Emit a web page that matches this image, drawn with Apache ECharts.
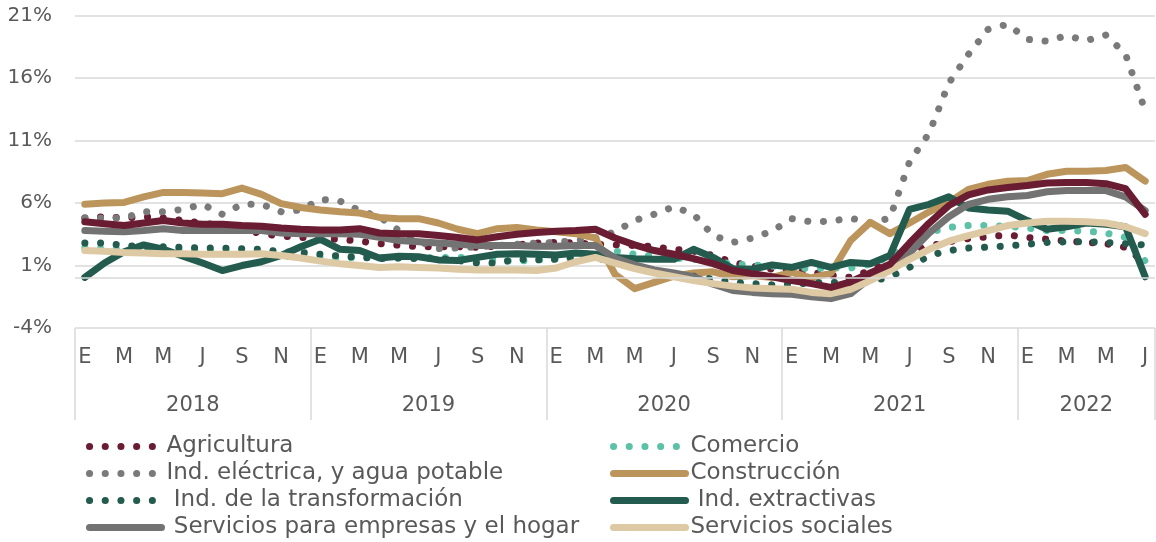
<!DOCTYPE html>
<html lang="es">
<head>
<meta charset="utf-8">
<title>Variación anual por sector</title>
<script src="https://cdn.jsdelivr.net/npm/echarts@6.0.0/dist/echarts.min.js"></script>
<style>
  html, body { margin: 0; padding: 0; background: #fff; }
  #chart { width: 1156px; height: 542px; }
</style>
</head>
<body>
<div id="chart"></div>
<script>
// etiquetas de meses y años (ene-2018 a jul-2022)
const monthLetters = ['E', 'F', 'M', 'A', 'M', 'J', 'J', 'A', 'S', 'O', 'N', 'D']
const years = ['2018', '2019', '2020', '2021', '2022']
const monthsPerYear = [12, 12, 12, 12, 7]

// eje Y (%)
const yMin = -4
const yMax = 21
const yStep = 5

// series (% anual), una por sector
const agricultura = [
  4.8, 4.9, 4.8, 4.9, 4.8, 4.6, 4.4, 4.2, 3.9, 3.55, 3.35, 3.25,
  3.15, 3.1, 2.95, 2.75, 2.62, 2.5, 2.5, 2.5, 2.45, 2.55, 2.65, 2.8,
  2.85, 2.8, 2.7, 2.65, 2.6, 2.5, 2.3, 2.15, 1.8, 1.25, 0.95, 0.7,
  0.55, 0.45, 0.2, 0.05, 0.6, 1.3, 2.1, 2.55, 2.9, 3.15, 3.3, 3.45,
  3.25, 3.1, 2.95, 2.85, 2.75, 2.45, 1.2
]
const comercio = [
  2.4, 2.35, 2.3, 2.3, 2.25, 2.2, 2.2, 2.15, 2.1, 2.0, 1.75, 1.65,
  1.6, 1.6, 1.65, 1.65, 1.6, 1.6, 1.65, 1.65, 1.55, 1.4, 1.35, 1.45,
  1.55, 1.8, 2.1, 2.15, 1.9, 1.75, 1.6, 1.5, 1.4, 1.1, 1.05, 0.95,
  0.85, 0.75, 0.8, 0.8, 1.1, 1.7, 2.7, 3.65, 4.05, 4.2, 4.2, 4.15,
  4.0, 3.8, 3.8, 3.75, 3.6, 3.25, 1.35
]
const electrica = [
  4.8, 4.8, 4.8, 5.3, 5.3, 5.5, 5.9, 5.1, 5.9, 5.9, 5.3, 5.45,
  6.3, 6.15, 5.4, 4.9, 3.8, 2.95, 2.35, 2.4, 2.5, 2.6, 2.7, 2.8,
  2.85, 3.0, 3.2, 3.7, 4.6, 5.1, 5.7, 5.1, 3.4, 2.85, 3.2, 3.75,
  4.75, 4.5, 4.55, 4.8, 4.4, 4.8, 9.3, 11.6, 15.6, 17.9, 19.9, 20.3,
  19.1, 18.95, 19.4, 19.0, 19.45, 17.9, 13.4
]
const construccion = [
  5.9, 6.0, 6.05, 6.5, 6.85, 6.85, 6.8, 6.75, 7.2, 6.7, 5.95, 5.65,
  5.45, 5.3, 5.2, 4.85, 4.75, 4.75, 4.4, 3.9, 3.55, 3.95, 4.05, 3.85,
  3.7, 3.55, 3.2, 0.3, -0.85, -0.35, 0.15, 0.4, 0.5, 0.1, 0.2, 0.05,
  0.45, 0.0, 0.4, 3.0, 4.45, 3.55, 4.4, 5.3, 6.05, 7.1, 7.5, 7.75,
  7.8, 8.3, 8.55, 8.55, 8.6, 8.85, 7.75
]
const transformacion = [
  2.8, 2.8, 2.6, 2.5, 2.5, 2.45, 2.4, 2.4, 2.35, 2.3, 2.1, 2.05,
  1.9, 1.75, 1.65, 1.55, 1.6, 1.55, 1.6, 1.4, 1.2, 1.2, 1.5, 1.45,
  1.5, 1.65, 1.6, 1.3, 0.9, 0.5, 0.3, 0.15, -0.1, -0.35, -0.45, -0.55,
  -0.5, -0.4, -0.35, -0.45, -0.3, 0.1, 0.85, 1.8, 2.2, 2.4, 2.47, 2.57,
  2.7, 2.85, 2.9, 2.9, 2.85, 2.75, 2.65
]
const extractivas = [
  0.05, 1.2, 2.1, 2.65, 2.3, 1.75, 1.2, 0.6, 1.0, 1.3, 1.8, 2.5,
  3.1, 2.3, 2.2, 1.6, 1.75, 1.7, 1.45, 1.4, 1.65, 1.9, 1.95, 1.9,
  1.85, 2.0, 1.9, 1.65, 1.55, 1.5, 1.5, 2.3, 1.65, 0.75, 0.7, 1.05,
  0.85, 1.25, 0.85, 1.25, 1.15, 1.8, 5.5, 5.9, 6.5, 5.6, 5.45, 5.35,
  4.6, 3.9, 4.1, 4.4, 4.3, 4.1, 0.1
]
const servEmpresas = [
  3.8, 3.75, 3.7, 3.8, 3.95, 3.8, 3.8, 3.8, 3.8, 3.8, 3.6, 3.55,
  3.55, 3.55, 3.5, 3.25, 3.0, 2.9, 2.8, 2.7, 2.6, 2.6, 2.6, 2.55,
  2.55, 2.6, 2.6, 1.6, 1.05, 0.65, 0.4, 0.1, -0.5, -1.0, -1.15, -1.25,
  -1.3, -1.5, -1.65, -1.25, 0.0, 0.75, 2.0, 3.6, 4.9, 5.9, 6.3, 6.5,
  6.6, 6.9, 7.0, 7.0, 7.0, 6.5, 5.4
]
const servSociales = [
  2.2, 2.15, 2.05, 2.0, 1.95, 1.95, 1.9, 1.9, 1.9, 1.95, 1.8, 1.6,
  1.35, 1.15, 1.0, 0.85, 0.9, 0.85, 0.8, 0.7, 0.65, 0.65, 0.65, 0.6,
  0.8, 1.3, 1.65, 1.2, 0.75, 0.4, 0.1, -0.2, -0.45, -0.65, -0.8, -0.85,
  -0.9, -1.15, -1.25, -0.9, -0.2, 0.6, 1.5, 2.3, 2.95, 3.4, 3.8, 4.2,
  4.4, 4.55, 4.55, 4.5, 4.4, 4.1, 3.55
]
// total (línea guinda sin entrada en la leyenda)
const total = [
  4.5, 4.35, 4.2, 4.4, 4.6, 4.4, 4.3, 4.3, 4.2, 4.15, 4.0, 3.9,
  3.85, 3.85, 3.95, 3.6, 3.55, 3.55, 3.4, 3.25, 3.05, 3.3, 3.5, 3.65,
  3.75, 3.8, 3.9, 3.2, 2.65, 2.2, 1.9, 1.55, 1.15, 0.6, 0.35, 0.1,
  -0.2, -0.45, -0.75, -0.3, 0.4, 1.1, 2.8, 4.4, 5.8, 6.65, 7.05, 7.25,
  7.4, 7.6, 7.65, 7.65, 7.55, 7.15, 5.1
]

// categorías "2018-0" ... y límites de cada año sobre el eje
const months = []
const yearBounds = [0]
const yearMids = []
years.forEach((y, i) => {
  for (let m = 0; m < monthsPerYear[i]; m++) months.push(y + '-' + m)
  yearMids.push(yearBounds[i] + monthsPerYear[i] / 2)
  yearBounds.push(yearBounds[i] + monthsPerYear[i])
})

const textColor = '#595959'
const gridColor = '#d9d9d9'
const fontFamily = "'DejaVu Sans', sans-serif"
const dots = [0.1, 15.6]

const lineSeries = (name, data, color, dotted) => ({
  name,
  type: 'line',
  data,
  symbol: 'none',
  showSymbol: false,
  silent: true,
  itemStyle: { color },
  lineStyle: {
    color,
    width: 7,
    type: dotted ? dots : 'solid',
    cap: 'round',
    join: 'round'
  }
})

const series = [
  lineSeries('Agricultura', agricultura, '#6a1c32', true),
  lineSeries('Comercio', comercio, '#5cc1a6', true),
  lineSeries('Ind. eléctrica, y agua potable', electrica, '#7a7a7a', true),
  lineSeries('Construcción', construccion, '#bc955c', false),
  lineSeries(' Ind. de la transformación', transformacion, '#235b4e', true),
  lineSeries(' Ind. extractivas', extractivas, '#235b4e', false),
  lineSeries(' Servicios para empresas y el hogar', servEmpresas, '#737373', false),
  lineSeries('Servicios sociales', servSociales, '#ddc9a3', false),
  lineSeries('Total', total, '#6a1c32', false)
]

// línea del cero
series[0].markLine = {
  silent: true,
  symbol: 'none',
  label: { show: false },
  lineStyle: { color: gridColor, width: 1.5, type: 'solid' },
  data: [{ yAxis: 0 }]
}

const legendBase = {
  orient: 'vertical',
  top: 435,
  padding: 0,
  itemWidth: 72,
  itemHeight: 10,
  itemGap: 4,
  selectedMode: false,
  itemStyle: { opacity: 0 },
  lineStyle: { width: 7 },
  textStyle: { color: textColor, fontSize: 23, lineHeight: 22, fontFamily }
}

const chart = echarts.init(document.getElementById('chart'), null, { renderer: 'canvas' })

chart.setOption({
  animation: false,
  backgroundColor: '#fff',
  grid: { left: 75, right: 1, top: 15.6, bottom: 214, containLabel: false },
  legend: [
    Object.assign({}, legendBase, {
      left: 86,
      data: [series[0].name, series[2].name, series[4].name, series[6].name]
    }),
    Object.assign({}, legendBase, {
      left: 610,
      data: [series[1].name, series[3].name, series[5].name, series[7].name]
    })
  ],
  xAxis: [
    {
      type: 'category',
      data: months,
      boundaryGap: true,
      axisLine: { show: false },
      axisTick: { show: false },
      splitLine: { show: false },
      axisLabel: {
        interval: 1,
        margin: 19,
        color: textColor,
        fontSize: 21,
        fontFamily,
        formatter: (v) => monthLetters[Number(v.split('-')[1])]
      }
    },
    {
      type: 'value',
      position: 'bottom',
      min: 0,
      max: months.length,
      axisLine: { show: false },
      splitLine: { show: false },
      axisTick: {
        show: true,
        length: 92,
        customValues: yearBounds,
        lineStyle: { color: gridColor, width: 1.5 }
      },
      axisLabel: {
        margin: 67,
        color: textColor,
        fontSize: 21,
        fontFamily,
        customValues: yearMids,
        formatter: (v) => years[yearMids.indexOf(v)]
      }
    }
  ],
  yAxis: {
    type: 'value',
    min: yMin,
    max: yMax,
    interval: yStep,
    axisLine: { show: false },
    axisTick: { show: false },
    splitLine: { lineStyle: { color: gridColor, width: 1.5 } },
    axisLabel: {
      margin: 23,
      color: textColor,
      fontSize: 20,
      fontFamily,
      formatter: '{value}%'
    }
  },
  series
})
</script>
</body>
</html>
